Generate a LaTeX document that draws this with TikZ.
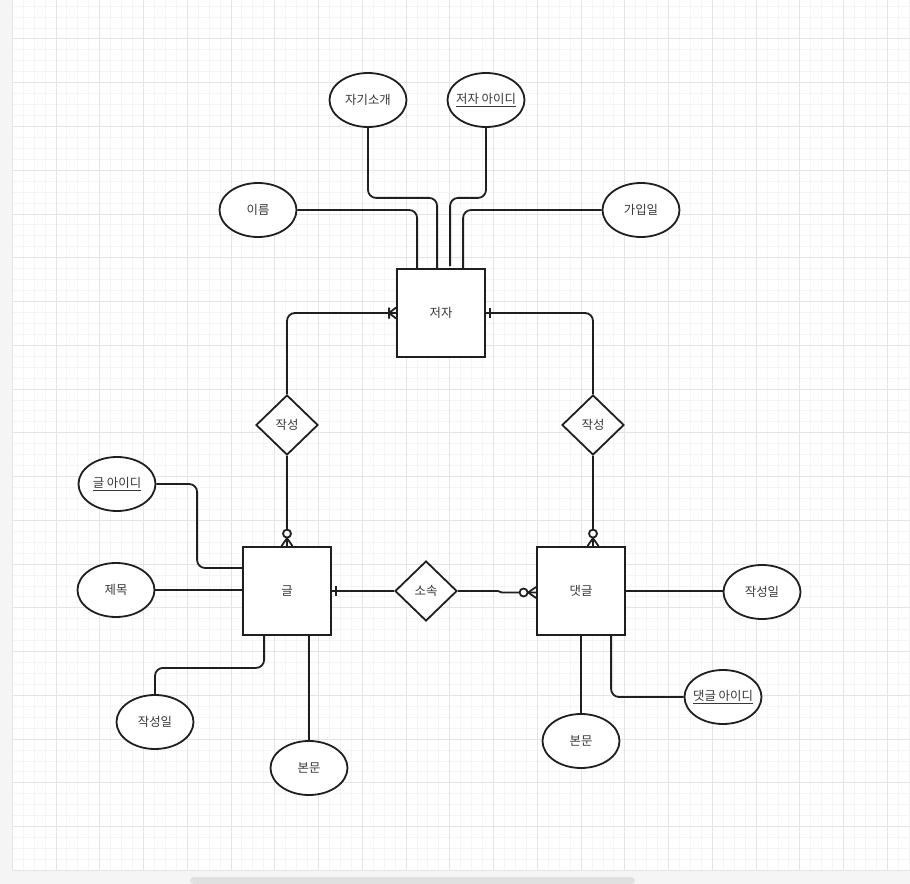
\documentclass[tikz,border=0pt]{standalone}
\usepackage{fontspec}
\newfontfamily\krfont{Noto Sans CJK KR}
\usepackage{tikz}
\usetikzlibrary{shapes.geometric,calc}

\begin{document}
\begin{tikzpicture}[x=0.75pt, y=-0.75pt,
  font=\krfont\fontsize{9.3}{11}\selectfont, text=black!78,
  erline/.style={line width=1.35pt, draw=black!88},
  ent/.style={erline, fill=white, minimum width=66pt, minimum height=66pt, inner sep=0pt},
  attr/.style={erline, ellipse, fill=white, minimum width=57.75pt, minimum height=40.5pt, inner xsep=-9pt, inner ysep=0pt},
  rel/.style={erline, diamond, fill=white, minimum width=46.5pt, minimum height=45pt, inner sep=0pt},
  link/.style={erline, rounded corners=6pt},
  minorline/.style={draw=black!4, line width=0.75pt},
  majorline/.style={draw=black!10, line width=0.75pt},
  erone/.pic={\draw[erline] (-4,-5) -- (-4,5);},
  eronemany/.pic={\draw[erline] (-7,-5.5) -- (-7,5.5) (0,-5.5) -- (-7,0) -- (0,5.5);},
  erzeromany/.pic={\draw[erline] (0,-5.5) -- (-8,0) -- (0,5.5); \draw[erline, fill=white] (-12.5,0) circle[radius=4];}]
\useasboundingbox (0,0) rectangle (910,884);
% canvas grid
\fill[black!4] (0,0) rectangle (910,884);
\fill[white] (13,0) rectangle (910,871);
\foreach \k in {0,...,82}{ \draw[minorline] ({12.24+10.94*\k},0) -- ({12.24+10.94*\k},871); }
\foreach \k in {1,...,80}{ \draw[minorline] (13,{-4.76+10.94*\k}) -- (910,{-4.76+10.94*\k}); }
\foreach \k in {0,...,20}{ \draw[majorline] ({12.24+43.76*\k},0) -- ({12.24+43.76*\k},871); }
\foreach \k in {1,...,20}{ \draw[majorline] (13,{-4.76+43.76*\k}) -- (910,{-4.76+43.76*\k}); }
\fill[black!12, rounded corners=3pt] (190,877) rectangle (635,884);
% entities
\node[ent] (jeoja) at (441,313) {저자};
\node[ent] (geul) at (287,591) {글};
\node[ent] (daet) at (581,591) {댓글};
% relationships
\node[rel] (write1) at (287,425) {작성};
\node[rel] (write2) at (593,425) {작성};
\node[rel] (belong) at (426,591) {소속};
% attributes of 저자
\node[attr] (intro) at (368,100) {자기소개};
\node[attr] (jeojaid) at (486,100) {\underline{저자 아이디}};
\node[attr] (name) at (258,210) {이름};
\node[attr] (joined) at (641,210) {가입일};
\draw[link] (name.east) -| ($(jeoja.north west)+(21,0)$);
\draw[link] (intro.south) -- ++(0,70) -| ($(jeoja.north west)+(41,0)$);
\draw[link] (jeojaid.south) -- ++(0,70) -| ($(jeoja.north west)+(54,-2)$);
\draw[link] (joined.west) -| ($(jeoja.north west)+(67,0)$);
% attributes of 글
\node[attr] (postid) at (117,484) {\underline{글 아이디}};
\node[attr] (title) at (116,590) {제목};
\node[attr] (pdate) at (155,722) {작성일};
\node[attr] (pbody) at (309,768) {본문};
\draw[link] (postid.east) -| ($(geul.west)+(-45,-23)$) -- ($(geul.west)+(0,-23)$);
\draw[link] (title.east) -- (title.east -| geul.west);
\draw[link] (pdate.north) |- ($(geul.south west)+(22,32)$) -- ($(geul.south west)+(22,0)$);
\draw[link] (pbody.north) -- (pbody.north |- geul.south);
% attributes of 댓글
\node[attr] (cdate) at (762,592) {작성일};
\node[attr] (cmtid) at (723,697) {\underline{댓글 아이디}};
\node[attr] (cbody) at (581,741) {본문};
\draw[link] (daet.east) -- (daet.east -| cdate.west);
\draw[link] ($(daet.south west)+(75,0)$) |- (cmtid.west);
\draw[link] (cbody.north) -- (cbody.north |- daet.south);
% relationship links with cardinalities
\draw[link] (jeoja.west) -| (write1.north);
\draw[link] (jeoja.east) -| (write2.north);
\draw[link] (write1.south) -- (write1.south |- geul.north);
\draw[link] (write2.south) -- (write2.south |- daet.north);
\draw[link] (geul.east) -- (belong.west);
\draw[erline] (belong.east) -- ++(40,0) -- ++(4,1.5) -- ($(daet.west)+(0,1.5)$);
\pic at (jeoja.west) {eronemany};
\pic[rotate=180] at (jeoja.east) {erone};
\pic[rotate=-90] at (write1.south |- geul.north) {erzeromany};
\pic[rotate=-90] at (write2.south |- daet.north) {erzeromany};
\pic[rotate=180] at (geul.east) {erone};
\pic at ($(daet.west)+(0,1.5)$) {erzeromany};
\end{tikzpicture}
\end{document}
